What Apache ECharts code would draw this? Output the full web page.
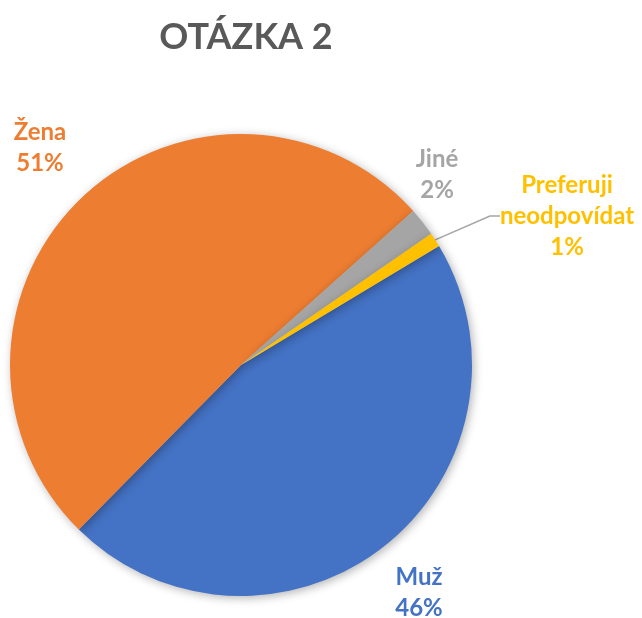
<!DOCTYPE html>
<html><head><meta charset="utf-8">
<script src="https://cdn.jsdelivr.net/npm/echarts@6/dist/echarts.min.js"></script>
<style>html,body{margin:0;padding:0;background:#fff}#c{width:642px;height:618px}</style>
</head><body><div id="c"></div>
<script>
var categories = ['Muž', 'Žena', 'Jiné', 'Preferuji\nneodpovídat'];
var values = [46, 51, 2, 1];
var colors = ['#4472C4', '#ED7D31', '#A5A5A5', '#FFC000'];
var titleText = 'OTÁZKA 2';

var labelPos = [
  {x: 419, y: 593},
  {x: 40, y: 148},
  {x: 437, y: 175},
  {x: 567, y: 216}
];

var chart = echarts.init(document.getElementById('c'));
chart.setOption({
  animation: false,
  title: {
    text: titleText, left: 241, top: 14, textAlign: 'center',
    textStyle: {fontFamily: 'Lato', fontWeight: 'bold', fontSize: 36, color: '#595959'}
  },
  series: [{
    type: 'pie',
    center: [241, 365],
    radius: 231,
    startAngle: 31,
    clockwise: true,
    avoidLabelOverlap: false,
    data: categories.map(function (c, i) {
      return {
        name: c, value: values[i],
        itemStyle: {color: colors[i]},
        label: {color: colors[i]},
        labelLine: {show: i === 3, lineStyle: {color: '#A5A5A5', width: 1.5}}
      };
    }),
    itemStyle: {shadowBlur: 10, shadowColor: 'rgba(0,0,0,0.3)', shadowOffsetX: 2, shadowOffsetY: 2},
    label: {
      show: true, position: 'outside', overflow: 'none',
      formatter: '{b}\n{d}%',
      fontFamily: 'Lato', fontWeight: 'bold', fontSize: 24, lineHeight: 31,
      align: 'center'
    },
    labelLine: {length: 10, length2: 10},
    labelLayout: function (p) {
      var lp = labelPos[p.dataIndex];
      return {x: lp.x, y: lp.y, align: 'center', verticalAlign: 'middle'};
    }
  }]
});
</script></body></html>
